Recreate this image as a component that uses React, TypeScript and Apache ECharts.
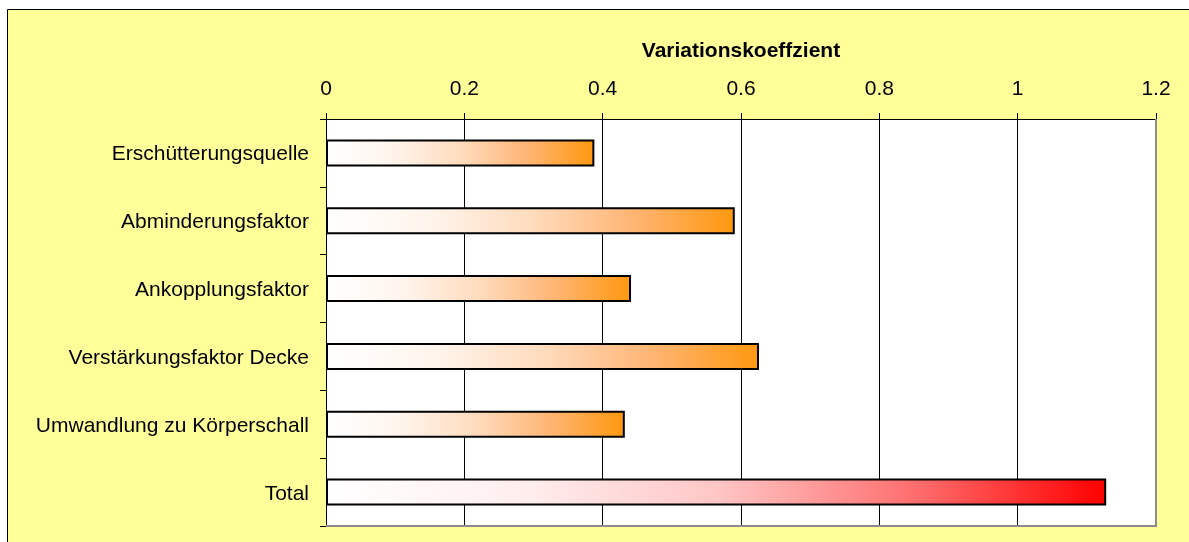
import React, { useEffect, useRef } from "react";
import * as echarts from "echarts";

const categories = [
  "Erschütterungsquelle",
  "Abminderungsfaktor",
  "Ankopplungsfaktor",
  "Verstärkungsfaktor Decke",
  "Umwandlung zu Körperschall",
  "Total",
];
const values = [0.388, 0.591, 0.441, 0.626, 0.432, 1.128];
const axisTitle = "Variationskoeffzient";

const FONT = "'Liberation Sans', Arial, sans-serif";

const orangeGrad = new echarts.graphic.LinearGradient(0, 0, 1, 0, [
  { offset: 0, color: "#FFFFFF" },
  { offset: 0.25, color: "#FFF4EC" },
  { offset: 0.5, color: "#FFDCBE" },
  { offset: 0.75, color: "#FFB574" },
  { offset: 1, color: "#FF9810" },
]);
const redGrad = new echarts.graphic.LinearGradient(0, 0, 1, 0, [
  { offset: 0, color: "#FFFFFF" },
  { offset: 0.25, color: "#FFEEEE" },
  { offset: 0.5, color: "#FFC6C6" },
  { offset: 0.75, color: "#FF7070" },
  { offset: 1, color: "#FF0000" },
]);

export default function App() {
  const ref = useRef<HTMLDivElement>(null);
  useEffect(() => {
    if (!ref.current) return;
    const chart = echarts.init(ref.current, undefined, { renderer: "svg" });
    const L = 326, T = 119, R = 1156, B = 526;
    chart.setOption({
      animation: false,
      textStyle: { fontFamily: FONT },
      graphic: [
        {
          type: "rect",
          z: -10,
          silent: true,
          shape: { x: 7.5, y: 9.5, width: 1300, height: 700 },
          style: { fill: "#FFFF99", stroke: "#000000", lineWidth: 1 },
        },
        {
          type: "rect",
          z: -9,
          silent: true,
          shape: { x: L, y: T, width: R - L, height: B - T },
          style: { fill: "#FFFFFF" },
        },
        {
          type: "line",
          z: 100,
          silent: true,
          shape: { x1: R, y1: T, x2: R, y2: B + 1 },
          style: { stroke: "#8C8C8C", lineWidth: 2 },
        },
        {
          type: "line",
          z: 100,
          silent: true,
          shape: { x1: L, y1: B, x2: R + 1, y2: B },
          style: { stroke: "#8C8C8C", lineWidth: 2 },
        },
      ],
      grid: { left: L, top: T, width: R - L, height: B - T, containLabel: false },
      xAxis: {
        type: "value",
        position: "top",
        min: 0,
        max: 1.2,
        interval: 0.2,
        name: axisTitle,
        nameLocation: "middle",
        nameGap: 59,
        nameTextStyle: { fontFamily: FONT, fontSize: 21, fontWeight: "bold", color: "#000" },
        axisLine: { show: true, lineStyle: { color: "#000", width: 1 } },
        axisTick: { show: true, length: 6, lineStyle: { color: "#000" } },
        axisLabel: {
          fontFamily: FONT,
          fontSize: 21,
          color: "#000",
          margin: 21,
          formatter: (v: number) => String(Math.round(v * 10) / 10),
        },
        splitLine: { show: true, lineStyle: { color: "#000", width: 1 } },
      },
      yAxis: {
        type: "category",
        inverse: true,
        data: categories,
        axisLine: { show: true, lineStyle: { color: "#000", width: 1 } },
        axisTick: { show: true, length: 6, inside: false, lineStyle: { color: "#000" } },
        axisLabel: { fontFamily: FONT, fontSize: 21, color: "#000", margin: 17 },
        splitLine: { show: false },
      },
      series: [
        {
          type: "bar",
          barWidth: 27,
          data: values.map((v, i) => ({
            value: v,
            itemStyle: {
              color: i === values.length - 1 ? redGrad : orangeGrad,
              borderColor: "#000",
              borderWidth: 2,
            },
          })),
        },
      ],
    });
    return () => chart.dispose();
  }, []);
  return (
    <div
      ref={ref}
      style={{ position: "fixed", left: 0, top: 0, width: 1189, height: 542 }}
    />
  );
}
